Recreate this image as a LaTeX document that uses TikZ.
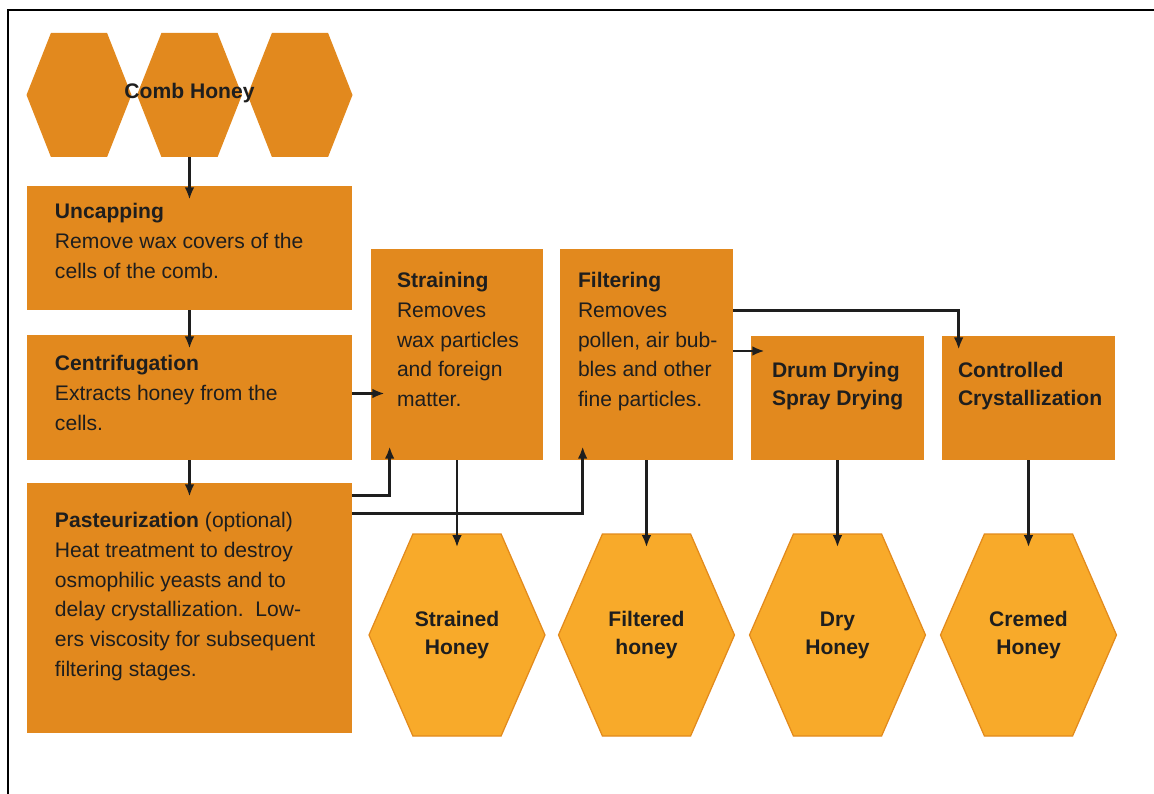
\documentclass[tikz,border=0pt]{standalone}
\usepackage{fontspec}
\setmainfont{Liberation Sans}
\usepackage{tikz}
\usetikzlibrary{arrows.meta, positioning, shapes.symbols}
\definecolor{combfill}{RGB}{226, 137, 30}
\definecolor{hexfill}{RGB}{248, 170, 42}
\definecolor{hexedge}{RGB}{226, 138, 28}
\definecolor{inkgray}{RGB}{30, 30, 30}

\begin{document}
\begin{tikzpicture}[
  step box/.style={
    rectangle, fill=combfill, inner sep=0pt
  },
  comb cell/.style={
    signal, signal to=east and west, signal pointer angle=137,
    fill=combfill, inner sep=0pt,
    minimum width=2.1cm, minimum height=2.48cm
  },
  honey cell/.style={
    signal, signal to=east and west, signal pointer angle=133,
    fill=hexfill, draw=hexedge, line width=0.7pt, inner sep=0pt,
    minimum width=3.52cm, minimum height=4.04cm,
    font=\fontsize{12}{16}\selectfont\bfseries, align=center, text=inkgray
  },
  boxtxt/.style={
    anchor=north west, inner sep=0pt, align=left, text=inkgray,
    font=\fontsize{12}{17}\selectfont
  },
  flow/.style={
    -{Latex[length=7pt, width=5.5pt]}, line width=1.4pt, draw=inkgray,
    shorten >=-0.28cm
  },
]

\useasboundingbox (0,0) rectangle (23.08,-15.88);

% frame
\draw[line width=1.3pt] (0.16,-15.88) -- (0.16,-0.2) -- (23.08,-0.2);

\def\colA{3.79}
\def\colB{9.14}
\def\colC{12.93}
\def\colD{16.75}
\def\colE{20.57}

% comb honey
\node[comb cell] (combL) at (1.58,-1.9) {};
\node[comb cell] (combM) at (\colA,-1.9) {};
\node[comb cell] (combR) at (6.0,-1.9) {};
\node[font=\fontsize{12}{16}\selectfont\bfseries, text=inkgray] (combT) at (\colA,-1.86) {Comb Honey};

% processing steps
\node[step box, minimum width=6.5cm, minimum height=2.48cm] (uncap)   at (\colA,-4.96) {};
\node[step box, minimum width=6.5cm, minimum height=2.5cm]  (centri)  at (\colA,-7.95) {};
\node[step box, minimum width=6.5cm, minimum height=5.0cm]  (pasteur) at (\colA,-12.16) {};
\node[step box, minimum width=3.44cm, minimum height=4.22cm] (strain) at (\colB,-7.09) {};
\node[step box, minimum width=3.46cm, minimum height=4.22cm] (filter) at (\colC,-7.09) {};
\node[step box, minimum width=3.46cm, minimum height=2.48cm] (drum)   at (\colD,-7.96) {};
\node[step box, minimum width=3.46cm, minimum height=2.48cm] (cryst)  at (\colE,-7.96) {};

\node[boxtxt] (uncapT) at ([xshift=0.56cm, yshift=-0.34cm]uncap.north west)
  {\textbf{Uncapping}\\Remove wax covers of the\\cells of the comb.};
\node[boxtxt] (centriT) at ([xshift=0.56cm, yshift=-0.4cm]centri.north west)
  {\textbf{Centrifugation}\\Extracts honey from the\\cells.};
\node[boxtxt] (pasteurT) at ([xshift=0.56cm, yshift=-0.58cm]pasteur.north west)
  {\textbf{Pasteurization} (optional)\\Heat treatment to destroy\\osmophilic yeasts and to\\delay crystallization.\ \ Low-\\ers viscosity for subsequent\\filtering stages.};
\node[boxtxt] (strainT) at ([xshift=0.52cm, yshift=-0.46cm]strain.north west)
  {\textbf{Straining}\\Removes\\wax particles\\and foreign\\matter.};
\node[boxtxt] (filterT) at ([xshift=0.36cm, yshift=-0.46cm]filter.north west)
  {\textbf{Filtering}\\Removes\\pollen, air bub-\\bles and other\\fine particles.};
\node[boxtxt, font=\fontsize{12}{16}\selectfont\bfseries] (drumT) at ([xshift=0.42cm, yshift=-0.52cm]drum.north west)
  {Drum Drying\\Spray Drying};
\node[boxtxt, font=\fontsize{12}{16}\selectfont\bfseries] (crystT) at ([xshift=0.32cm, yshift=-0.52cm]cryst.north west)
  {Controlled\\Crystallization};

% products
\node[honey cell] (strained) at (\colB,-12.7) {Strained\\Honey};
\node[honey cell] (filtered) at (\colC,-12.7) {Filtered\\honey};
\node[honey cell] (dry)      at (\colD,-12.7) {Dry\\Honey};
\node[honey cell] (cremed)   at (\colE,-12.7) {Cremed\\Honey};

% main line
\draw[flow] (combM.south) -- (uncap.north);
\draw[flow] (uncap.south) -- (centri.north);
\draw[flow] (centri.south) -- (pasteur.north);
\draw[flow] ([yshift=0.08cm]centri.east) -- ([yshift=0.08cm]centri.east -| strain.west);
\draw[flow] ([yshift=-0.26cm]pasteur.north east) -| ([xshift=0.38cm]strain.south west);
\draw[flow] ([yshift=-0.62cm]pasteur.north east) -| ([xshift=0.46cm]filter.south west);
\draw[flow] ([yshift=0.07cm]filter.east) -- ([yshift=0.07cm]filter.east -| drum.west);
\draw[flow] ([yshift=-1.24cm]filter.north east) -| ([xshift=0.34cm]cryst.north west);

% to products
\draw[flow] (strain.south) -- (strained.north);
\draw[flow] (filter.south) -- (filtered.north);
\draw[flow] (drum.south) -- (dry.north);
\draw[flow] (cryst.south) -- (cremed.north);

\end{tikzpicture}
\end{document}
